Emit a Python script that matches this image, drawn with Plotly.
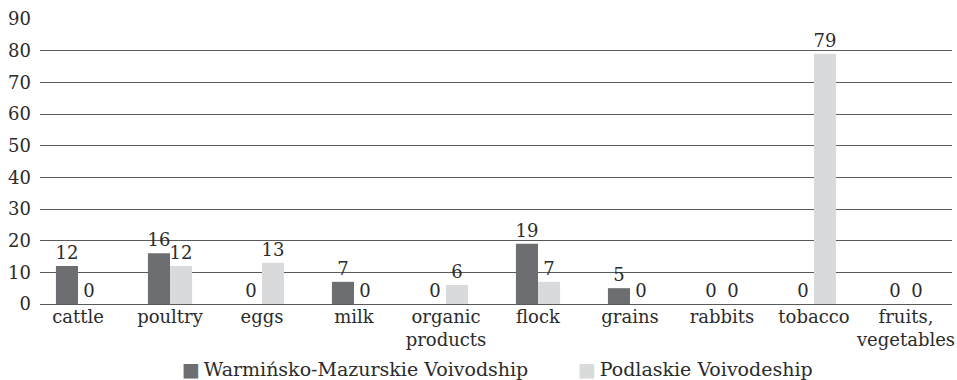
import plotly.graph_objects as go

categories = ["cattle", "poultry", "eggs", "milk", "organic<br>products", "flock",
              "grains", "rabbits", "tobacco", "fruits,<br>vegetables"]
warminsko = [12, 16, 0, 7, 0, 19, 5, 0, 0, 0]
podlaskie = [0, 12, 13, 0, 6, 7, 0, 0, 79, 0]
y_ticks = list(range(0, 100, 10))
series_names = ["Warmińsko-Mazurskie Voivodship", "Podlaskie Voivodeship"]

FONT = "DejaVu Serif"
TXT = "#2b2b2b"
DARK = "#6d6e71"
LIGHT = "#d9dadc"

fig = go.Figure()
for name, vals, col in [(series_names[0], warminsko, DARK), (series_names[1], podlaskie, LIGHT)]:
    fig.add_trace(go.Bar(
        x=categories, y=vals, name=name,
        marker=dict(color=col, line=dict(width=0)),
        text=[str(v) for v in vals], textposition="outside", constraintext="none",
        textfont=dict(family=FONT, size=18, color=TXT), cliponaxis=False,
    ))

# legend row drawn as text with coloured square glyphs
fig.add_annotation(
    x=180, y=369, xref="paper", yref="paper", showarrow=False, xanchor="left", yanchor="middle",
    text=f'<span style="color:{DARK}">■</span>\u2009{series_names[0]}',
    font=dict(family=FONT, size=19, color=TXT),
)
fig.add_annotation(
    x=576, y=369, xref="paper", yref="paper", showarrow=False, xanchor="left", yanchor="middle",
    text=f'<span style="color:{LIGHT}">■</span>\u2009{series_names[1]}',
    font=dict(family=FONT, size=19, color=TXT),
)

W, H = 957, 380
L, R, T, B = 40, 5, 19, 76
pw, ph = W - L - R, H - T - B
for ann in fig.layout.annotations:
    ann.x = (ann.x - L) / pw
    ann.y = (H - B - ann.y) / ph

fig.update_layout(
    width=W, height=H,
    margin=dict(l=L, r=R, t=T, b=B, autoexpand=False),
    paper_bgcolor="white", plot_bgcolor="white",
    barmode="group", bargap=0.52, bargroupgap=0,
    font=dict(family=FONT, size=18, color=TXT),
    showlegend=False,
)
fig.update_xaxes(
    type="category", range=[-0.413, 9.5], showgrid=False, showline=False,
    ticks="", automargin=False, tickfont=dict(family=FONT, size=18, color=TXT),
)
fig.update_yaxes(
    range=[0, 90], tickvals=y_ticks, showgrid=True, gridcolor="#5a5a5a", gridwidth=1,
    zeroline=True, zerolinecolor="#5a5a5a", zerolinewidth=1, automargin=False,
    showline=False, ticks="", ticklabelstandoff=8,
    tickfont=dict(family=FONT, size=18, color=TXT),
)

fig.write_html("out.html")
